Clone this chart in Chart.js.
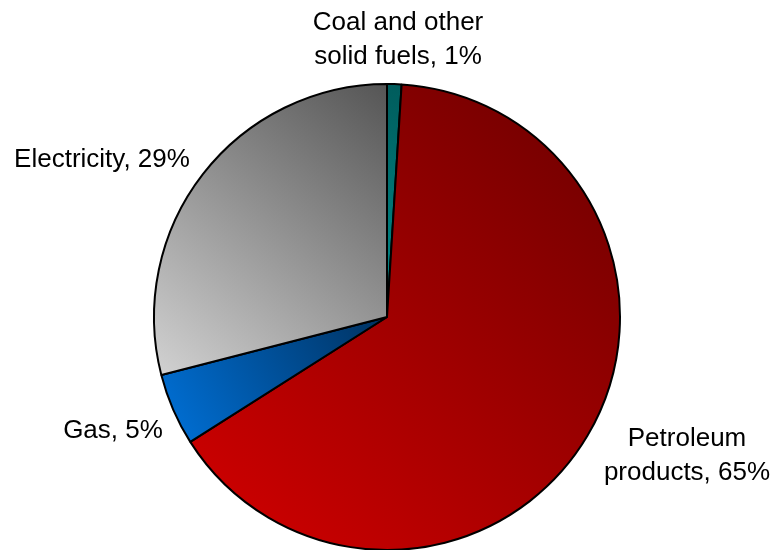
<!DOCTYPE html>
<html>
<head>
<meta charset="utf-8">
<script src="https://cdn.jsdelivr.net/npm/chart.js@4.4.1/dist/chart.umd.min.js"></script>
<style>
  html, body { margin: 0; padding: 0; background: #fff; }
  #wrap { width: 772px; height: 550px; }
</style>
</head>
<body>
<div id="wrap"><canvas id="pieChart" width="772" height="550"></canvas></div>
<script>
// 燃料別の割合 (%)
const categories = ['Coal and other\nsolid fuels', 'Petroleum\nproducts', 'Gas', 'Electricity'];
const values = [1, 65, 5, 29];

// 各スライスのグラデーション（左下: 明るい色, 右上: 暗い色）
const lightShades = ['#008c8c', '#d40000', '#0072da', '#d2d2d2'];
const darkShades = ['#005c5c', '#6a0000', '#00315f', '#555555'];

const pieRadius = 233;

// スライスの外接矩形に合わせて斜めのグラデーションを作る
function sliceGradient(context) {
    const i = context.dataIndex;
    const chart = context.chart;
    const area = chart.chartArea;
    if (!area) return darkShades[i];
    const cx = (area.left + area.right) / 2;
    const cy = (area.top + area.bottom) / 2;
    const total = values.reduce((a, b) => a + b, 0);
    let start = 0;
    for (let k = 0; k < i; k++) start += values[k];
    const a0 = start / total * Math.PI * 2 - Math.PI / 2;
    const a1 = (start + values[i]) / total * Math.PI * 2 - Math.PI / 2;

    const pts = [[cx, cy], [cx + Math.cos(a0) * pieRadius, cy + Math.sin(a0) * pieRadius],
                 [cx + Math.cos(a1) * pieRadius, cy + Math.sin(a1) * pieRadius]];
    for (let q = -1; q <= 4; q++) {
        const a = q * Math.PI / 2;
        if (a > a0 && a < a1) pts.push([cx + Math.cos(a) * pieRadius, cy + Math.sin(a) * pieRadius]);
    }
    const xs = pts.map(p => p[0]);
    const ys = pts.map(p => p[1]);
    const g = chart.ctx.createLinearGradient(Math.min(...xs), Math.max(...ys), Math.max(...xs), Math.min(...ys));
    g.addColorStop(0, lightShades[i]);
    g.addColorStop(1, darkShades[i]);
    return g;
}

// ラベルは手動配置（中心x, 1行目のベースラインy）
const sliceLabels = {
    id: 'sliceLabels',
    afterDraw(chart, args, opts) {
        const ctx = chart.ctx;
        ctx.save();
        ctx.font = opts.font;
        ctx.fillStyle = opts.color;
        ctx.textAlign = 'center';
        ctx.textBaseline = 'alphabetic';
        categories.forEach((cat, i) => {
            const lines = (cat + ', ' + values[i] + '%').split('\n');
            const pos = opts.positions[i];
            lines.forEach((line, j) => {
                ctx.fillText(line, pos.x, pos.y + j * opts.lineHeight);
            });
        });
        ctx.restore();
    }
};

const ctx = document.getElementById('pieChart').getContext('2d');
new Chart(ctx, {
    type: 'pie',
    data: {
        labels: categories,
        datasets: [{
            data: values,
            backgroundColor: sliceGradient,
            borderColor: '#000000',
            borderWidth: 2,
            radius: pieRadius
        }]
    },
    options: {
        responsive: false,
        animation: false,
        events: [],
        layout: {
            padding: { left: 2, right: 0, top: 84, bottom: 0 }
        },
        plugins: {
            legend: { display: false },
            tooltip: { enabled: false },
            sliceLabels: {
                font: '26px "Liberation Sans", Arial, sans-serif',
                color: '#000000',
                lineHeight: 34,
                positions: [
                    { x: 398, y: 30 },
                    { x: 687, y: 446 },
                    { x: 113, y: 438 },
                    { x: 102, y: 167 }
                ]
            }
        }
    },
    plugins: [sliceLabels]
});
</script>
</body>
</html>
